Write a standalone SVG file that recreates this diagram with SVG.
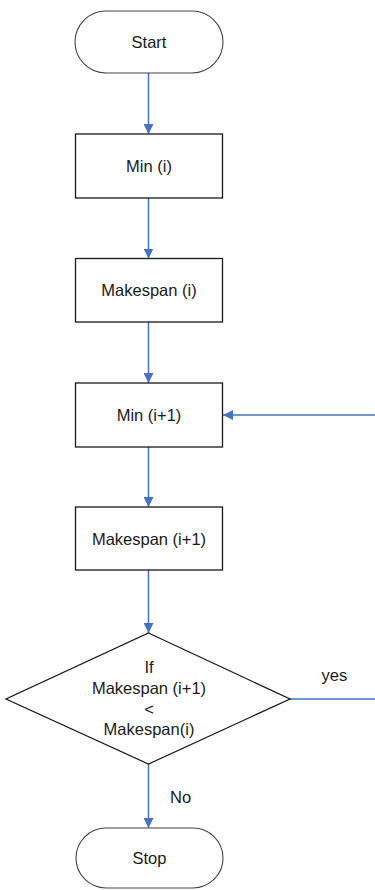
<svg xmlns="http://www.w3.org/2000/svg" width="375" height="890" viewBox="0 0 375 890">
<defs>
<style>
.box{fill:#fff;stroke:#1a1a1a;stroke-width:1.3}
.term{fill:#fff;stroke:#444;stroke-width:1.1}
.t{font-family:"Liberation Sans",Arial,sans-serif;font-size:16.5px;fill:#1a1a1a;text-anchor:middle}
.l{font-family:"Liberation Sans",Arial,sans-serif;font-size:16.5px;fill:#1a1a1a}
.c{stroke:#4472c4;stroke-width:1.5;fill:none}
</style>
<marker id="ah" viewBox="0 0 10 10" refX="10" refY="5" markerWidth="10" markerHeight="10" markerUnits="userSpaceOnUse" orient="auto">
<path d="M0,0 L10,5 L0,10 Z" fill="#4472c4"/>
</marker>
</defs>
<rect width="375" height="890" fill="#fff"/>
<g id="connectors">
<line class="c" x1="148.5" y1="73" x2="148.5" y2="134" marker-end="url(#ah)"/>
<line class="c" x1="148.5" y1="198" x2="148.5" y2="258.5" marker-end="url(#ah)"/>
<line class="c" x1="148.5" y1="322" x2="148.5" y2="383" marker-end="url(#ah)"/>
<line class="c" x1="148.5" y1="447" x2="148.5" y2="507" marker-end="url(#ah)"/>
<line class="c" x1="148.5" y1="570" x2="148.5" y2="633" marker-end="url(#ah)"/>
<line class="c" x1="148.5" y1="764" x2="148.5" y2="828" marker-end="url(#ah)"/>
<line class="c" x1="290" y1="699" x2="375" y2="699"/>
<line class="c" x1="375" y1="415" x2="223" y2="415" marker-end="url(#ah)"/>
<text class="l" x="321.5" y="681">yes</text>
<text class="l" x="170" y="803">No</text>
</g>
<g id="start">
<rect class="term" x="75" y="11" width="148" height="62" rx="31" ry="31"/>
<text class="t" x="149" y="48">Start</text>
</g>
<g id="min_i">
<rect class="box" x="75.5" y="134" width="147" height="64"/>
<text class="t" x="149" y="172">Min (i)</text>
</g>
<g id="makespan_i">
<rect class="box" x="75.5" y="258.5" width="147" height="63.5"/>
<text class="t" x="149" y="296">Makespan (i)</text>
</g>
<g id="min_i1">
<rect class="box" x="75.5" y="383" width="147" height="64"/>
<text class="t" x="149" y="421">Min (i+1)</text>
</g>
<g id="makespan_i1">
<rect class="box" x="75.5" y="507" width="147" height="63"/>
<text class="t" x="149" y="544.5">Makespan (i+1)</text>
</g>
<g id="decision">
<polygon class="box" points="148.5,633 290,699 148.5,764 6,699"/>
<text class="t" x="149" y="673">If</text>
<text class="t" x="149" y="694">Makespan (i+1)</text>
<text class="t" x="149" y="714.5">&lt;</text>
<text class="t" x="149" y="735">Makespan(i)</text>
</g>
<g id="stop">
<rect class="term" x="76" y="828" width="147" height="60" rx="30" ry="30"/>
<text class="t" x="149.5" y="864">Stop</text>
</g>
</svg>
